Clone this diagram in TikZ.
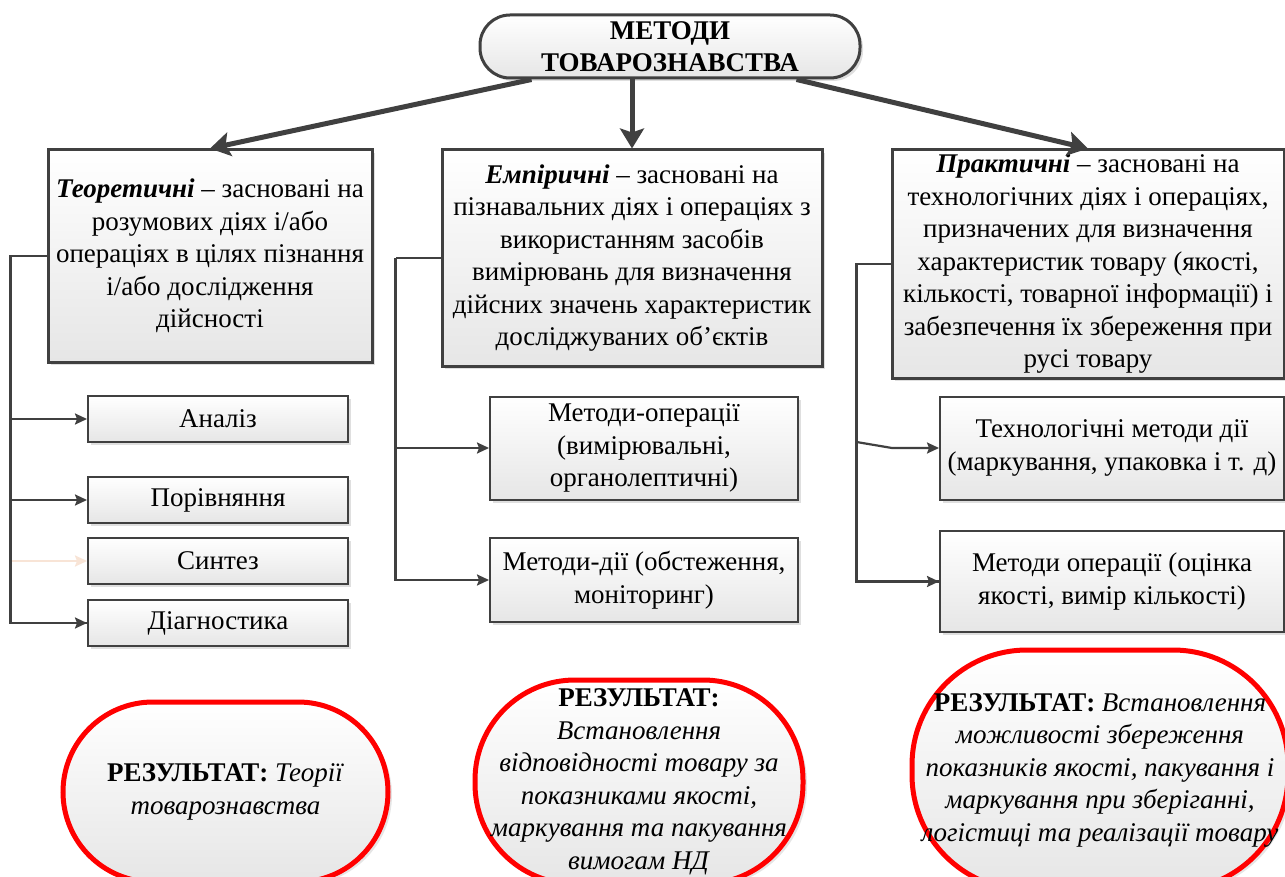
\documentclass[tikz,border=0pt]{standalone}
\usepackage{fontspec}
\setmainfont{Liberation Serif}
\usepackage{xcolor}
\usetikzlibrary{arrows.meta,shadows}
\definecolor{linegray}{HTML}{404040}
\definecolor{fillgray}{HTML}{E6E6E6}
\definecolor{resred}{HTML}{FF0000}
\definecolor{faintarrow}{HTML}{F8E4D6}

\begin{document}
\begin{tikzpicture}[
    x=1pt, y=-1pt,
    txt/.style={
        font=\fontsize{27}{32.5}\selectfont,
        align=center
    },
    box/.style={
        txt,
        draw=linegray,
        top color=white,
        bottom color=fillgray,
        drop shadow={opacity=0.25, shadow xshift=3pt, shadow yshift=-3pt},
        inner sep=2pt
    },
    headbox/.style={box, line width=3pt},
    subbox/.style={box, line width=2pt},
    resbox/.style={
        txt,
        draw=resred,
        line width=5pt,
        top color=white,
        bottom color=fillgray,
        drop shadow={opacity=0.2, shadow xshift=4pt, shadow yshift=-3pt},
        inner sep=1pt
    },
    mainarrow/.style={
        draw=linegray,
        line width=5pt,
        -{Stealth[length=20pt, width=24pt, inset=4pt]}
    },
    bus/.style={draw=linegray, line width=2.2pt},
    branch/.style={bus, -{Stealth[length=12pt, width=11pt, inset=2pt]}}
]

\fill[white] (0,0) rectangle (1285,877);
\useasboundingbox (0,0) rectangle (1285,877);

% ============================================================
% Title
% ============================================================

\node[headbox, rounded corners=30pt, minimum width=380pt,
      minimum height=63pt, font=\fontsize{27}{32}\selectfont\bfseries]
    (top) at (670,46.5) {МЕТОДИ\\ТОВАРОЗНАВСТВА};

% ============================================================
% Three groups of methods
% ============================================================

\node[headbox, minimum width=324pt, minimum height=212pt]
    (teor) at (210,256) {
    \textbf{\textit{Теоретичні}} – засновані на\\
    розумових діях і/або\\
    операціях в цілях пізнання\\
    і/або дослідження\\
    дійсності
};

\node[headbox, minimum width=380pt, minimum height=216pt]
    (empir) at (632,258) {
    \textbf{\textit{Емпіричні}} – засновані на\\
    пізнавальних діях і операціях з\\
    використанням засобів\\
    вимірювань для визначення\\
    дійсних значень характеристик\\
    досліджуваних об’єктів
};

\node[headbox, minimum width=392pt, minimum height=228pt]
    (prakt) at (1088,264) {
    \textbf{\textit{Практичні}} – засновані на\\
    технологічних діях і операціях,\\
    призначених для визначення\\
    характеристик товару (якості,\\
    кількості, товарної інформації) і\\
    забезпечення їх збереження при\\
    русі товару
};

\draw[mainarrow] ([xshift=53pt]top.south west) -- (teor.north);
\draw[mainarrow] (empir.north |- top.south) -- (empir.north);
\draw[mainarrow] ([xshift=-65pt]top.south east) -- (prakt.north);

% ============================================================
% Theoretical methods
% ============================================================

\node[subbox, minimum width=260pt, minimum height=46pt]
    (analiz) at (218,419) {Аналіз};
\node[subbox, minimum width=260pt, minimum height=46pt]
    (porivn) at (218,500) {Порівняння};
\node[subbox, minimum width=260pt, minimum height=46pt]
    (syntez) at (218,561) {Синтез};
\node[subbox, minimum width=260pt, minimum height=46pt]
    (diagn) at (218,623) {Діагностика};

\coordinate (lbus) at ([xshift=-36pt]teor.west);
\draw[bus] (teor.west) -- (lbus) |- (diagn.west);
\draw[branch] (lbus) |- (analiz.west);
\draw[branch] (lbus) |- (porivn.west);
\draw[branch, draw=faintarrow] (syntez.west -| lbus) -- (syntez.west);
\draw[branch] (lbus) |- (diagn.west);

% ============================================================
% Empirical methods
% ============================================================

\node[subbox, minimum width=308pt, minimum height=103pt]
    (oper) at (644,448) {
    Методи-операції\\
    (вимірювальні,\\
    органолептичні)
};
\node[subbox, minimum width=308pt, minimum height=84pt]
    (dii) at (644,580) {
    Методи-дії (обстеження,\\
    моніторинг)
};

\coordinate (mbus) at ([xshift=-45pt]empir.west);
\draw[bus] (empir.west) -- (mbus);
\draw[branch] (mbus) |- (oper.west);
\draw[branch] (mbus) |- (dii.west);

% ============================================================
% Practical methods
% ============================================================

\node[subbox, minimum width=344pt, minimum height=103pt]
    (tekhn) at (1112,448) {
    Технологічні методи дії\\
    (маркування, упаковка і т. д)
};
\node[subbox, minimum width=344pt, minimum height=101pt]
    (ocinka) at (1112,581.5) {
    Методи операції (оцінка\\
    якості, вимір кількості)
};

\coordinate (rbus) at ([xshift=-34pt]prakt.west);
\coordinate (rbend) at ([xshift=-47pt]tekhn.west);
\draw[bus] (prakt.west) -- (rbus) |- (ocinka.west);
\draw[branch] ([yshift=6pt]rbus |- tekhn.west) -- (rbend) -- (tekhn.west);
\draw[branch] (rbus) |- (ocinka.west);

% ============================================================
% Results
% ============================================================

\node[resbox, rounded corners=90pt, minimum width=325pt,
      minimum height=180pt] (res1) at (225.5,792) {
    \textbf{РЕЗУЛЬТАТ:} \textit{Теорії}\\
    \textit{товарознавства}
};

\node[resbox, rounded corners=100pt, minimum width=328pt,
      minimum height=204pt] (res2) at (639,782) {
    \textbf{РЕЗУЛЬТАТ:}\\
    \textit{Встановлення}\\
    \textit{відповідності товару за}\\
    \textit{показниками якості,}\\
    \textit{маркування та пакування}\\
    \textit{вимогам НД}
};

\node[resbox, rounded corners=115pt, minimum width=376pt,
      minimum height=240pt] (res3) at (1100,770) {
    \textbf{РЕЗУЛЬТАТ:} \textit{Встановлення}\\
    \textit{можливості збереження}\\
    \textit{показників якості, пакування і}\\
    \textit{маркування при зберіганні,}\\
    \textit{логістиці та реалізації товару}
};

\end{tikzpicture}
\end{document}
